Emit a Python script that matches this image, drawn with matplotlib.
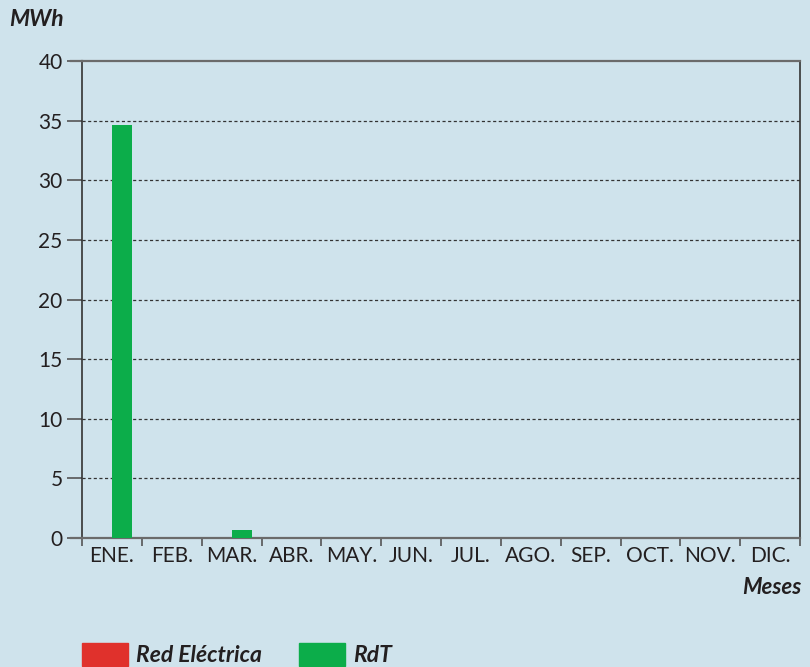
import numpy as np
import matplotlib.pyplot as plt
from matplotlib.patches import Rectangle

# Data
meses = ['ENE.', 'FEB.', 'MAR.', 'ABR.', 'MAY.', 'JUN.', 'JUL.', 'AGO.', 'SEP.', 'OCT.', 'NOV.', 'DIC.']
red_electrica = [0, 0, 0, 0, 0, 0, 0, 0, 0, 0, 0, 0]
rdt = [34.6, 0, 0.65, 0, 0, 0, 0, 0, 0, 0, 0, 0]

bg = '#cfe3ec'
red = '#e0312c'
green = '#0cad4a'
txt = '#231f20'

plt.rcParams['font.family'] = ['Lato', 'DejaVu Sans']

fig = plt.figure(figsize=(8.1, 6.67), dpi=100, facecolor=bg)
ax = fig.add_axes([82 / 810, 1 - 538 / 667, 718 / 810, 477 / 667], facecolor=bg)

x = np.arange(len(meses))
w = 1 / 3
ax.bar(x - w / 2, red_electrica, width=w, color=red, zorder=3)
ax.bar(x + w / 2, rdt, width=w, color=green, zorder=3)

ax.set_xlim(-0.5, len(meses) - 0.5)
ax.set_ylim(0, 40)

# y axis
ax.set_yticks(np.arange(0, 41, 5))
ax.tick_params(axis='y', length=11, width=1.2, color='#555555', labelsize=15, labelcolor=txt, pad=3)
for y in range(5, 40, 5):
    ax.axhline(y, color='#333333', lw=0.9, ls=(0, (2.5, 2)), zorder=1)

# x axis: ticks at category boundaries, labels centered
ax.set_xticks(np.arange(-0.5, len(meses), 1))
ax.set_xticklabels([])
ax.set_xticks(x, minor=True)
ax.set_xticklabels(meses, minor=True)
ax.tick_params(axis='x', which='major', length=6, width=1.2, color='#555555')
ax.tick_params(axis='x', which='minor', length=0, labelsize=15, labelcolor=txt, pad=6)

for s in ['left', 'right']:
    ax.spines[s].set_color('#333333')
    ax.spines[s].set_linewidth(1.2)
for s in ['top', 'bottom']:
    ax.spines[s].set_color('#6b6b6b')
    ax.spines[s].set_linewidth(1.6)

# extend top/bottom lines to the left like the y ticks
for yv in [0, 40]:
    ax.plot([-0.5 - 11 / 59.83, -0.5], [yv, yv], color='#6b6b6b', lw=1.6, clip_on=False, zorder=4)

fig.text(9 / 810, 1 - 19 / 667, 'MWh', fontsize=16.5, fontweight='bold', fontstyle='italic',
         color=txt, va='center', ha='left')
fig.text(801 / 810, 1 - 588 / 667, 'Meses', fontsize=16, fontweight='bold', fontstyle='italic',
         color=txt, va='center', ha='right')

# legend
fig.patches.append(Rectangle((82 / 810, 1 - 666 / 667), 46 / 810, 23 / 667,
                             transform=fig.transFigure, color=red))
fig.text(136 / 810, 1 - 655 / 667, 'Red Eléctrica', fontsize=16.5, fontweight='bold',
         fontstyle='italic', color=txt, va='center', ha='left')
fig.patches.append(Rectangle((299 / 810, 1 - 666 / 667), 46 / 810, 23 / 667,
                             transform=fig.transFigure, color=green))
fig.text(353 / 810, 1 - 655 / 667, 'RdT', fontsize=16.5, fontweight='bold',
         fontstyle='italic', color=txt, va='center', ha='left')

fig.savefig('out.png', dpi=100, facecolor=bg)
